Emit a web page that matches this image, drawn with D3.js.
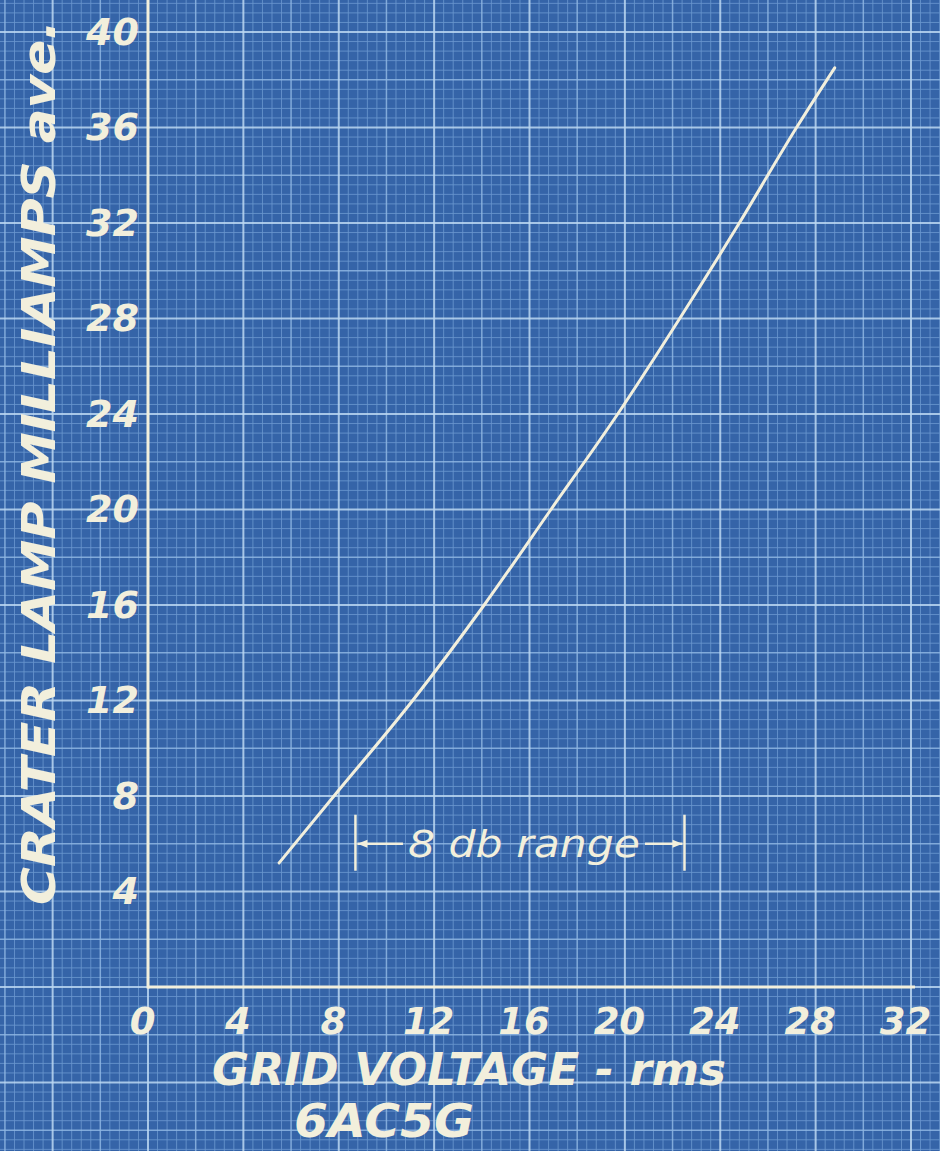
<!DOCTYPE html>
<html>
<head>
<meta charset="utf-8">
<script src="https://cdn.jsdelivr.net/npm/d3@7"></script>
<style>
  body { margin: 0; background: #3564a8; }
  svg { display: block; }
  .lettering {
    font-family: "DejaVu Sans", sans-serif;
    font-weight: bold;
    font-style: oblique;
    fill: #f2efdc;
  }
</style>
</head>
<body>
<div id="chart"></div>
<script>
// 6AC5G - crater lamp current against grid voltage
const gridVolts = [5.5, 7.8, 11.1, 14.1, 16.9, 19.7, 22.3, 24.8, 27.2, 28.8];
const lampMa    = [5.2, 8, 12, 16, 20, 24, 28, 32, 36, 38.5];

const xTicks = [0, 4, 8, 12, 16, 20, 24, 28, 32];
const yTicks = [4, 8, 12, 16, 20, 24, 28, 32, 36, 40];

// "8 db range" marker: ends in volts, height in mA
const dbRange = [8.7, 22.5];
const dbLevel = 6;

const width = 940, height = 1151;
const ink = "#f2efdc";

const svg = d3.select("#chart")
    .append("svg")
    .attr("width", width)
    .attr("height", height);

const x = d3.scaleLinear().domain([0, 32]).range([148, 911]);
const y = d3.scaleLinear().domain([0, 40]).range([987, 32]);

// background
svg.append("rect")
    .attr("width", width)
    .attr("height", height)
    .attr("fill", "#3564a8");

// graph paper: fine every 0.4, medium every 2, heavy every 4
const step = 0.4;
const lineStyle = k => k % 10 === 0 ? { c: "#bcd8f2", w: 2 }
    : k % 5 === 0 ? { c: "#8fb7e3", w: 1.5 }
    : { c: "#6a97cf", w: 1 };

const vk = d3.range(Math.floor(x.invert(0) / step), Math.ceil(x.invert(width) / step) + 1);
const hk = d3.range(Math.floor(y.invert(height) / step), Math.ceil(y.invert(0) / step) + 1);

const paper = svg.append("g").attr("class", "paper");

// fine lines first so heavier ones sit on top
[0, 5, 10].forEach(level => {
    const pick = k => (level === 10 ? k % 10 === 0 : level === 5 ? (k % 5 === 0 && k % 10 !== 0) : k % 5 !== 0);

    paper.selectAll(".v" + level)
        .data(vk.filter(pick))
        .join("line")
        .attr("x1", k => x(k * step))
        .attr("x2", k => x(k * step))
        .attr("y1", 0)
        .attr("y2", height)
        .attr("stroke", k => lineStyle(k).c)
        .attr("stroke-width", k => lineStyle(k).w)
        .attr("opacity", 0.85);

    paper.selectAll(".h" + level)
        .data(hk.filter(pick))
        .join("line")
        .attr("y1", k => y(k * step))
        .attr("y2", k => y(k * step))
        .attr("x1", 0)
        .attr("x2", width)
        .attr("stroke", k => lineStyle(k).c)
        .attr("stroke-width", k => lineStyle(k).w)
        .attr("opacity", 0.85);
});

// axes lines
svg.append("line")
    .attr("x1", x(0)).attr("x2", x(0))
    .attr("y1", y(0) + 1.5).attr("y2", 0)
    .attr("stroke", ink).attr("stroke-width", 3);

svg.append("line")
    .attr("x1", x(0)).attr("x2", x.range()[1] + 4)
    .attr("y1", y(0)).attr("y2", y(0))
    .attr("stroke", ink).attr("stroke-width", 3);

// tick labels
const xAxis = d3.axisBottom(x).tickValues(xTicks).tickSize(0).tickPadding(21);
const yAxis = d3.axisLeft(y).tickValues(yTicks).tickSize(0).tickPadding(9);

svg.append("g")
    .attr("transform", `translate(0,${y(0)})`)
    .call(xAxis)
    .call(g => g.select(".domain").remove())
    .selectAll("text")
    .attr("class", "lettering")
    .attr("dx", -6)
    .style("font-size", "37px");

svg.append("g")
    .attr("transform", `translate(${x(0)},0)`)
    .call(yAxis)
    .call(g => g.select(".domain").remove())
    .selectAll("text")
    .attr("class", "lettering")
    .style("font-size", "38px");

// the curve
const line = d3.line()
    .x(d => x(d[0]))
    .y(d => y(d[1]))
    .curve(d3.curveMonotoneX);

svg.append("path")
    .datum(d3.zip(gridVolts, lampMa))
    .attr("d", line)
    .attr("fill", "none")
    .attr("stroke", ink)
    .attr("stroke-width", 3)
    .attr("stroke-linecap", "round");

// 8 db range marker
const defs = svg.append("defs");
defs.append("marker")
    .attr("id", "head")
    .attr("viewBox", "0 0 10 10")
    .attr("refX", 10).attr("refY", 5)
    .attr("markerWidth", 22).attr("markerHeight", 10)
    .attr("markerUnits", "userSpaceOnUse")
    .attr("orient", "auto")
    .append("path")
    .attr("d", "M0,1 L10,5 L0,9 Z")
    .attr("fill", ink);

const x0 = x(dbRange[0]), x1 = x(dbRange[1]), yl = y(dbLevel);
const mid = (x0 + x1) / 2 + 4;
const textLen = 232;

const marker = svg.append("g");
[x0, x1].forEach(xx => {
    marker.append("line")
        .attr("x1", xx).attr("x2", xx)
        .attr("y1", yl - 29).attr("y2", yl + 27)
        .attr("stroke", ink).attr("stroke-width", 2.5);
});
marker.append("line")
    .attr("x1", mid - textLen / 2 - 5).attr("x2", x0 + 2)
    .attr("y1", yl).attr("y2", yl)
    .attr("stroke", ink).attr("stroke-width", 2.5)
    .attr("marker-end", "url(#head)");
marker.append("line")
    .attr("x1", mid + textLen / 2 + 5).attr("x2", x1 - 2)
    .attr("y1", yl).attr("y2", yl)
    .attr("stroke", ink).attr("stroke-width", 2.5)
    .attr("marker-end", "url(#head)");
marker.append("text")
    .attr("class", "lettering")
    .attr("x", mid)
    .attr("y", yl + 13)
    .attr("text-anchor", "middle")
    .attr("textLength", textLen)
    .attr("lengthAdjust", "spacingAndGlyphs")
    .style("font-size", "38px")
    .style("font-weight", "normal")
    .text("8 db range");

// axis titles
svg.append("text")
    .attr("class", "lettering")
    .attr("transform", `translate(55,905) rotate(-90)`)
    .attr("textLength", 885)
    .attr("lengthAdjust", "spacingAndGlyphs")
    .style("font-size", "46px")
    .text("CRATER LAMP MILLIAMPS ave.");

svg.append("text")
    .attr("class", "lettering")
    .attr("x", 212)
    .attr("y", 1085)
    .attr("textLength", 514)
    .attr("lengthAdjust", "spacingAndGlyphs")
    .style("font-size", "44px")
    .text("GRID VOLTAGE - rms");

svg.append("text")
    .attr("class", "lettering")
    .attr("x", 294)
    .attr("y", 1137)
    .attr("textLength", 180)
    .attr("lengthAdjust", "spacingAndGlyphs")
    .style("font-size", "47px")
    .text("6AC5G");
</script>
</body>
</html>
